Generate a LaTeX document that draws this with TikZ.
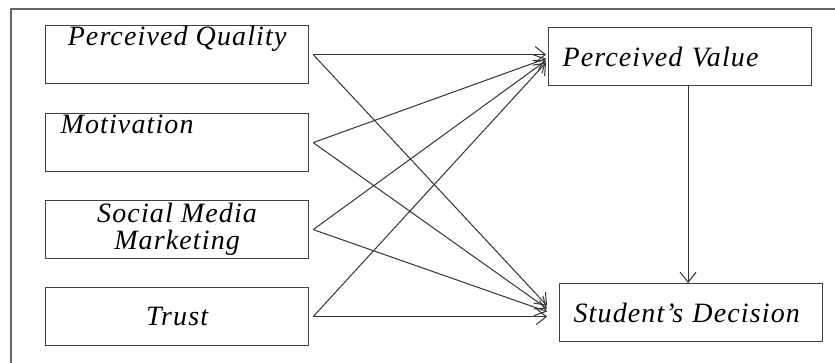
\documentclass[tikz,border=0pt]{standalone}
\usepackage{fontspec}
\setmainfont{Liberation Serif}[LetterSpace=4]
\usetikzlibrary{arrows.meta,positioning}

\begin{document}
\begin{tikzpicture}[x=0.5pt, y=-0.5pt,
    factor/.style={draw=black!75, line width=0.6pt, minimum width=131.5pt, minimum height=29pt,
        inner sep=0pt, font=\fontsize{14}{13.5}\selectfont\itshape},
    toptext/.style={text height=10pt, text depth=19pt},
    leftbox/.style={inner xsep=#1, text width=131.5pt-2*#1, align=left},
    link/.style={draw=black!80, line width=0.5pt, -{Straight Barb[length=5pt,width=8pt]}}]
    \useasboundingbox (0,0) rectangle (835,363);
    \draw[black!60, line width=0.8pt] (835,9) -- (11,9) -- (11,363);

    \node[factor, toptext, anchor=north west] (pq) at (45,25) {Perceived Quality};
    \node[factor, toptext, leftbox=7.5pt, anchor=north west] (mot) at (45,113) {Motivation};
    \node[factor, align=center, anchor=north west] (smm) at (45,200) {Social Media\\Marketing};
    \node[factor, anchor=north west] (trust) at (45,287) {Trust};
    \node[factor, leftbox=7pt, minimum width=131pt, anchor=north west] (pv) at (548,27) {Perceived Value};
    \node[factor, leftbox=7pt, anchor=north west] (sd) at (559,283) {Student's Decision};

    % to perceived value
    \draw[link] ([xshift=2pt]pq.east) -- ([xshift=-1pt]pq.east -| pv.west);
    \draw[link] ([xshift=2pt]mot.east) -- ([xshift=-1pt,yshift=-1pt]pv.west);
    \draw[link] ([xshift=2pt]smm.east) -- ([xshift=-1pt,yshift=-2pt]pv.west);
    \draw[link] ([xshift=2pt]trust.east) -- ([xshift=-1pt,yshift=-3pt]pv.west);
    % to student's decision
    \draw[link] ([xshift=2pt]pq.east) -- ([xshift=-6pt,yshift=3.5pt]sd.west);
    \draw[link] ([xshift=2pt]mot.east) -- ([xshift=-6pt,yshift=2pt]sd.west);
    \draw[link] ([xshift=2pt]smm.east) -- ([xshift=-6pt,yshift=0.5pt]sd.west);
    \draw[link] ([xshift=2pt]trust.east) -- ([xshift=-6pt]trust.east -| sd.west);
    \draw[link] ([xshift=4pt]pv.south) -- ([xshift=4pt]pv.south |- sd.north);
\end{tikzpicture}
\end{document}
